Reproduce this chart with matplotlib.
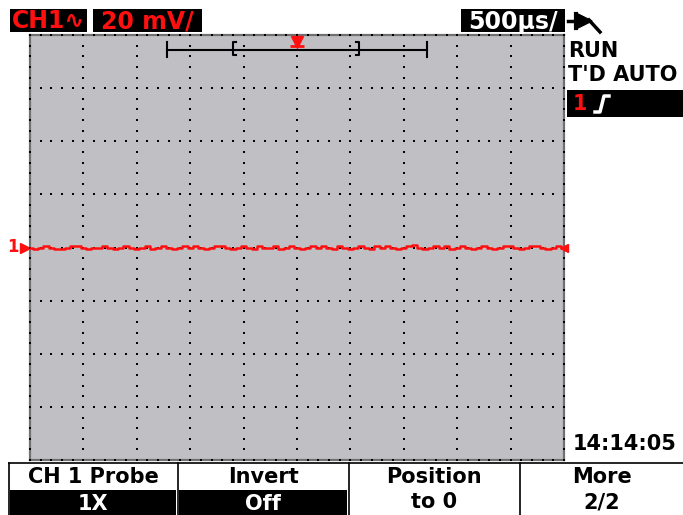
import numpy as np
import matplotlib.pyplot as plt
from matplotlib.patches import Rectangle, Polygon
from matplotlib.transforms import blended_transform_factory

# scope settings
volts_per_div = 20.0      # mV/div
time_per_div = 0.5        # ms/div (500 us)
n_xdiv = 10
n_ydiv = 8

# channel 1 trace (mV), one sample every 50 us across 5 ms
trace_mv = [0.0, -0.6, 0.0, 0.4, 0.0, -0.6, -0.4, 0.0, 0.6, 0.4,
            0.0, -0.6, 0.0, 0.0, 0.6, 0.0, -0.4, 0.0, 0.6, 0.0,
            -0.6, 0.0, 0.4, -0.6, 0.0, 0.6, 0.0, -0.4, 0.0, 0.6,
            0.0, 0.4, 0.0, -0.6, 0.0, 0.6, 0.4, 0.0, -0.6, 0.0,
            0.6, 0.0, -0.6, 0.4, 0.0, 0.0, 0.6, -0.6, 0.0, 0.4,
            0.0, -0.6, 0.0, 0.6, 0.0, 0.4, 0.0, -0.6, 0.6, 0.0,
            -0.6, 0.0, 0.4, 0.0, -0.6, 0.6, 0.0, 0.4, 0.0, -0.6,
            0.0, 0.6, 0.8, 0.0, -0.6, 0.0, 0.4, 0.0, 0.6, -0.6,
            0.0, 0.6, 0.0, -0.6, 0.0, 0.4, 0.0, -0.6, 0.0, 0.6,
            0.4, 0.0, -0.6, 0.0, 0.6, 0.4, 0.0, -0.6, 0.0, 0.4, 0.0]
time_ms = np.linspace(0, n_xdiv * time_per_div, len(trace_mv))

# on-screen texts
ch_label = "CH1\u223f"
vdiv_label = "20 mV/"
tdiv_label = "500\u00b5s/"
status_lines = ["RUN", "T'D AUTO"]
clock_label = "14:14:05"
menu_top = ["CH 1 Probe", "Invert", "Position", "More"]
menu_bottom = ["1X", "Off", "to 0", "2/2"]
menu_inverted = [True, True, False, False]

RED = "#ff1010"
GRAY = "#c0bfc4"
FONT = ["DejaVu Sans"]

fig = plt.figure(figsize=(6.83, 5.15), dpi=100)
fig.patch.set_facecolor("white")

#---- scope screen ----
ax = fig.add_axes([30 / 683, 55 / 515, 534 / 683, 425 / 515])
ax.set_facecolor(GRAY)
xmax = n_xdiv * time_per_div
ymax = n_ydiv / 2 * volts_per_div
ax.set_xlim(0, xmax)
ax.set_ylim(-ymax, ymax)
ax.set_xticks([])
ax.set_yticks([])
for s in ax.spines.values():
    s.set_color("#707070")
    s.set_linewidth(1.6)

# dotted graticule: 5 dots per division on every major line (and the border)
xmaj = np.arange(1, n_xdiv) * time_per_div
ymaj = (np.arange(1, n_ydiv) - n_ydiv / 2) * volts_per_div
xsub = np.arange(0, n_xdiv * 5 + 1) * time_per_div / 5
ysub = (np.arange(0, n_ydiv * 5 + 1) / 5 - n_ydiv / 2) * volts_per_div
for xv in list(xmaj) + [0, xmax]:
    ax.plot(np.full(len(ysub), xv), ysub, ls="none", marker="s", ms=1.5,
            mew=0, color="black", clip_on=False, zorder=3)
for yv in list(ymaj) + [-ymax, ymax]:
    ax.plot(xsub, np.full(len(xsub), yv), ls="none", marker="s", ms=1.5,
            mew=0, color="black", clip_on=False, zorder=3)

# trace
ax.plot(time_ms, trace_mv, color=RED, lw=1.8, drawstyle="steps-mid", zorder=4)
ax.plot([xmax], [0], marker="<", ms=6, color=RED, clip_on=False, zorder=5)

# ground marker "1 >" left of the screen
tr = blended_transform_factory(fig.transFigure, ax.transData)
ax.text(7 / 683, 0, "1", transform=tr, color=RED, fontsize=12,
        fontweight="bold", va="center", ha="left", family=FONT)
ax.plot([25 / 683], [0], marker=">", ms=7, color=RED, transform=tr,
        clip_on=False)

#---- overlay in pixel units for the UI chrome ----
ui = fig.add_axes([0, 0, 1, 1], zorder=5)
ui.set_xlim(0, 683)
ui.set_ylim(515, 0)
ui.axis("off")
ui.patch.set_alpha(0)

def box_text(x0, x1, y0, y1, txt, fg, bg, size, ha="center", pad=0):
    ui.add_patch(Rectangle((x0, y0), x1 - x0, y1 - y0, color=bg, lw=0))
    xt = (x0 + x1) / 2 if ha == "center" else x0 + pad
    ui.text(xt, (y0 + y1) / 2 + 1, txt, color=fg, fontsize=size,
            fontweight="bold", ha=ha, va="center", family=FONT)

# header
box_text(10, 87, 9, 32, ch_label, RED, "black", 17)
box_text(93, 202, 9, 32, vdiv_label, RED, "black", 17)
box_text(461, 565, 9, 32, tdiv_label, "white", "black", 17)

# trigger source plug icon
ui.plot([568, 576], [21, 21], color="black", lw=2.5)
ui.plot([576, 576], [14, 28], color="black", lw=3)
ui.add_patch(Polygon([[578, 14], [578, 28], [592, 21]], color="black"))
ui.plot([589, 600], [20, 32], color="black", lw=2.5)

# status area
ui.text(568, 51, status_lines[0], fontsize=15, fontweight="bold",
        va="center", family=FONT)
ui.text(568, 75, status_lines[1], fontsize=15, fontweight="bold",
        va="center", family=FONT)
ui.add_patch(Rectangle((567, 90), 116, 27, color="black", lw=0))
ui.text(573, 104, "1", color=RED, fontsize=15, fontweight="bold",
        va="center", family=FONT)
ui.plot([595, 600, 604, 609], [112, 112, 96, 96], color="white", lw=2.5)
ui.text(573, 444, clock_label, fontsize=15, fontweight="bold",
        va="center", family=FONT)

# memory / window ruler above the screen
ui.plot([167, 427], [50, 50], color="black", lw=1.5)
for xv in (167, 427):
    ui.plot([xv, xv], [42, 57], color="black", lw=1.5)
ui.plot([236, 233, 233, 236], [42, 42, 55, 55], color="black", lw=1.5)
ui.plot([356, 359, 359, 356], [42, 42, 55, 55], color="black", lw=1.5)
ui.plot([297], [42], marker="v", ms=8, color=RED)
ui.plot([297], [46], marker="_", ms=10, mew=2, color=RED)

# softkey menu
keys_x = [(9, 177), (178, 348), (349, 519), (520, 683)]
ui.plot([9, 683], [463, 463], color="black", lw=1.2)
for i, (x0, x1) in enumerate(keys_x):
    ui.text((x0 + x1) / 2, 477, menu_top[i], fontsize=15, fontweight="bold",
            ha="center", va="center", family=FONT)
    if menu_inverted[i]:
        box_text(x0 + 1, x1 - 1, 490, 515, menu_bottom[i], "white", "black", 15)
    else:
        ui.text((x0 + x1) / 2, 502, menu_bottom[i], fontsize=15,
                fontweight="bold", ha="center", va="center", family=FONT)
    ui.plot([x0, x0], [463, 515], color="black", lw=1.2)

fig.savefig("out.png", dpi=100)
